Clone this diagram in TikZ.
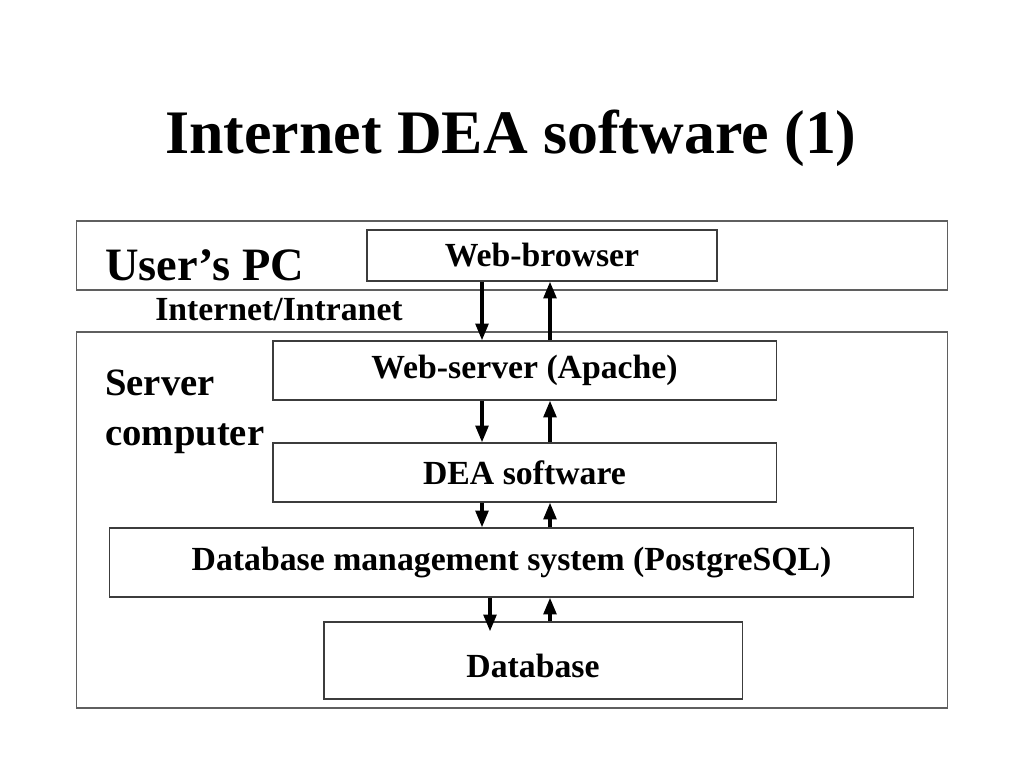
\documentclass[tikz,border=0pt]{standalone}
\usepackage{fontspec}
\setmainfont{Liberation Serif}
\usetikzlibrary{positioning, arrows.meta, calc}
\definecolor{framegray}{RGB}{95,95,95}
\definecolor{boxgray}{RGB}{60,60,60}

\tikzset{
  layer/.style={draw=framegray, line width=0.8pt, inner sep=0pt},
  block/.style={draw=boxgray, line width=0.8pt, fill=white, inner sep=0pt,
                font=\fontsize{24}{28}\selectfont\bfseries},
  tag/.style={inner sep=0pt, anchor=base west},
  flow/.style={line width=2.6pt, -{Triangle[width=9pt,length=12pt]}},
}

\begin{document}
\begin{tikzpicture}[x=0.025cm, y=-0.025cm]
  \useasboundingbox (0,0) rectangle (1024,768);

  % title
  \node[inner sep=0pt, anchor=base, font=\fontsize{44}{50}\selectfont\bfseries]
    (title) at (511,153) {Internet DEA software (1)};

  % the two machines
  \node[layer, minimum width=21.75cm, minimum height=1.725cm] (pc) at (512,255.5) {};
  \node[layer, minimum width=21.75cm, minimum height=9.4cm] (srv) at (512,520) {};

  \node[tag, font=\fontsize{33}{36}\selectfont\bfseries] (pclabel) at (105,280) {User’s PC};
  \node[tag, font=\fontsize{24}{28}\selectfont\bfseries] (net) at (155,320) {Internet/Intranet};
  \node[tag, font=\fontsize{27.5}{32}\selectfont\bfseries] (srvlabel) at (105,395) {Server};
  \node[tag, font=\fontsize{27.5}{32}\selectfont\bfseries] (srvlabel2) at (105,445) {computer};

  % software stack
  \node[block, minimum width=8.75cm, minimum height=1.275cm] (wb) at (542,255.5) {Web-browser};
  \node[block, minimum width=12.575cm, minimum height=1.475cm] (ws) at (524.5,370.5) {Web-server (Apache)};
  \node[block, minimum width=12.575cm, minimum height=1.475cm] (dea) at (524.5,472.5) {DEA software};
  \node[block, minimum width=20.075cm, minimum height=1.725cm] (dbms) at (511.5,562.5) {Database management system (PostgreSQL)};
  \node[block, minimum width=10.45cm, minimum height=1.925cm, text height=25pt] (db) at (533,660.5) {Database};

  % request / response lines
  \coordinate (dn) at (482,0);
  \coordinate (dnb) at (490,0);
  \coordinate (up) at (550,0);

  \draw[flow] (wb.south -| dn) -- (ws.north -| dn);
  \draw[flow] (ws.north -| up) -- (wb.south -| up);
  \draw[flow] (ws.south -| dn) -- (dea.north -| dn);
  \draw[flow] (dea.north -| up) -- (ws.south -| up);
  \draw[flow] (dea.south -| dn) -- (dbms.north -| dn);
  \draw[flow] (dbms.north -| up) -- (dea.south -| up);
  \draw[flow] (dbms.south -| dnb) -- ($(db.north -| dnb)+(0,10)$);
  \draw[flow] (db.north -| up) -- (dbms.south -| up);
\end{tikzpicture}
\end{document}
